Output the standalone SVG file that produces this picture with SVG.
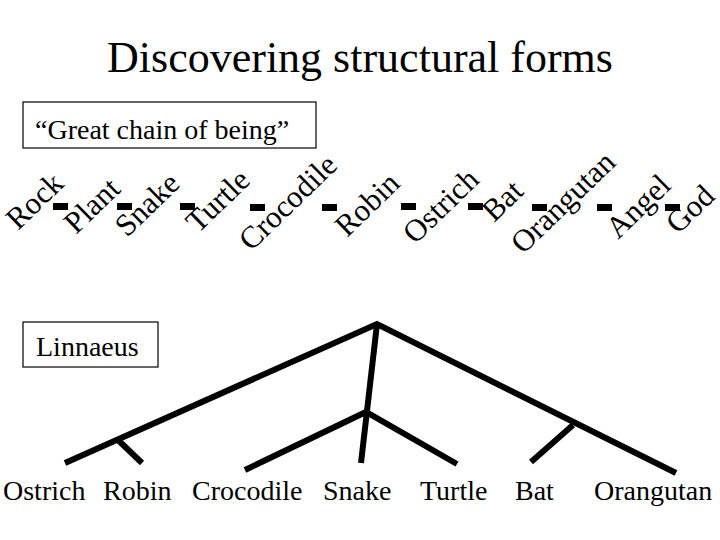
<svg xmlns="http://www.w3.org/2000/svg" width="720" height="540" viewBox="0 0 720 540" font-family="Liberation Serif, Times New Roman, serif">
<style>
.t{font-family:Liberation Serif, Times New Roman, serif;font-size:44px;fill:#000}
.lab{font-family:Liberation Serif, Times New Roman, serif;font-size:28px;fill:#000}
.ch{font-family:Liberation Serif, Times New Roman, serif;font-size:31px;fill:#000}
.box{fill:none;stroke:#000;stroke-width:1.2}
.br{stroke:#000;stroke-width:6;fill:none;stroke-linecap:butt;stroke-linejoin:miter}
.d{fill:#000}
</style>
<rect width="720" height="540" fill="#fff"/>
<text class="t" x="360" y="72" text-anchor="middle">Discovering structural forms</text>
<g id="chain-box">
<rect class="box" x="23" y="102" width="293" height="46"/>
<text class="lab" x="35" y="139">“Great chain of being”</text>
</g>
<g id="chain">
<text class="ch" transform="translate(18,231) rotate(-44)">Rock</text>
<text class="ch" transform="translate(76,235) rotate(-44)">Plant</text>
<text class="ch" transform="translate(127,238) rotate(-44)">Snake</text>
<text class="ch" transform="translate(198,234) rotate(-44)">Turtle</text>
<text class="ch" transform="translate(251,252) rotate(-44)">Crocodile</text>
<text class="ch" transform="translate(347,238) rotate(-44)">Robin</text>
<text class="ch" transform="translate(415,245) rotate(-44)">Ostrich</text>
<text class="ch" transform="translate(494,223) rotate(-44)">Bat</text>
<text class="ch" transform="translate(523,255) rotate(-44)">Orangutan</text>
<text class="ch" transform="translate(618,240) rotate(-44)">Angel</text>
<text class="ch" transform="translate(678,235) rotate(-44)">God</text>
<rect class="d" x="53" y="203" width="15" height="7"/>
<rect class="d" x="117" y="203" width="15" height="7"/>
<rect class="d" x="180" y="203" width="15" height="7"/>
<rect class="d" x="250" y="204" width="15" height="7"/>
<rect class="d" x="322" y="204" width="15" height="7"/>
<rect class="d" x="401" y="203" width="15" height="7"/>
<rect class="d" x="468" y="203" width="15" height="7"/>
<rect class="d" x="532" y="204" width="15" height="7"/>
<rect class="d" x="597" y="204" width="15" height="7"/>
<rect class="d" x="665" y="204" width="15" height="7"/>
</g>
<g id="linnaeus-box">
<rect class="box" x="23" y="322" width="135" height="45"/>
<text class="lab" x="36" y="356">Linnaeus</text>
</g>
<g id="connectors">
<path class="br" d="M65,463 L377,324 L676,473"/>
<path class="br" d="M118,440 L142,463"/>
<path class="br" d="M377,324 L361,463"/>
<path class="br" d="M245,470 L366,412 L457,464"/>
<path class="br" d="M573,425 L531,462"/>
</g>
<g id="leaves">
<text class="lab" x="3" y="500">Ostrich</text>
<text class="lab" x="103" y="500">Robin</text>
<text class="lab" x="192" y="500">Crocodile</text>
<text class="lab" x="323" y="500">Snake</text>
<text class="lab" x="420" y="500">Turtle</text>
<text class="lab" x="515" y="500">Bat</text>
<text class="lab" x="594" y="500">Orangutan</text>
</g>
</svg>
